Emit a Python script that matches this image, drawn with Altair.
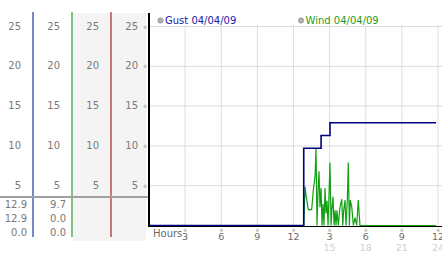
import altair as alt
import pandas as pd

# ---- data ----
y_ticks = [5, 10, 15, 20, 25]
y_tick_labels = ["5", "10", "15", "20", "25"]

x_ticks = [3, 6, 9, 12, 15, 18, 21, 24]
x_labels_row1 = ["3", "6", "9", "12", "3", "6", "9", "12"]
x_ticks_row2 = [15, 18, 21, 24]
x_labels_row2 = ["15", "18", "21", "24"]

gust_hours = [0, 12.85, 14.29, 15.03, 23.84]
gust_values = [0, 9.7, 11.3, 12.9, 12.9]

wind_hours = [0, 12.85, 12.96, 13.04, 13.23, 13.51, 13.65, 13.79, 13.87, 13.95, 14.04,
              14.12, 14.20, 14.29, 14.37, 14.45, 14.53, 14.62, 14.70, 14.78, 14.87,
              15.03, 15.12, 15.20, 15.28, 15.37, 15.45, 15.53, 15.61, 15.72, 15.86,
              16.01, 16.09, 16.17, 16.28, 16.36, 16.47, 16.55, 16.64, 16.72, 16.84,
              16.97, 17.11, 17.25, 17.38, 17.52, 23.84]
wind_values = [0, 0, 4.9, 3.8, 2.0, 2.0, 4.5, 6.2, 9.7, 0, 4.5,
               6.8, 2.3, 4.7, 0, 2.7, 0, 4.7, 1.5, 3.1, 0,
               7.9, 0, 2.3, 3.6, 0, 1.9, 0, 1.9, 0, 2.3,
               3.3, 0, 1.9, 3.2, 0, 3.2, 7.9, 0, 3.2, 2.3,
               0, 1.0, 0, 3.2, 0, 0]

summary_col1 = ["12.9", "12.9", "0.0"]
summary_col2 = ["9.7", "0.0", "0.0"]

legend_names = ["Gust 04/04/09", "Wind 04/04/09"]

# ---- styles ----
FONT = "DejaVu Sans"
LBL = "#7a7a7a"
NAVY = "#000080"
GREEN = "#12a012"

xs = alt.Scale(domain=[0, 24], range=[149, 438])
ys = alt.Scale(domain=[0, 25], range=[225.5, 26.5])

gust_df = pd.DataFrame({"h": gust_hours, "v": gust_values})
wind_df = pd.DataFrame({"h": wind_hours, "v": wind_values})
yt_df = pd.DataFrame({"v": y_ticks, "lab": y_tick_labels})
xt_df = pd.DataFrame({"h": x_ticks, "lab": x_labels_row1})
xt2_df = pd.DataFrame({"h": x_ticks_row2, "lab": x_labels_row2})

one = pd.DataFrame({"a": [0]})
layers = []

# left panel grey background (columns 3-4)
layers.append(alt.Chart(one).mark_rect(color="#f4f4f4").encode(
    x=alt.value(73), x2=alt.value(146), y=alt.value(13), y2=alt.value(241)))

# horizontal gridlines
layers.append(alt.Chart(yt_df).mark_rule(color="#dddddd", strokeWidth=1).encode(
    y=alt.Y("v:Q", scale=ys, axis=None), x=alt.value(149), x2=alt.value(442)))
# vertical gridlines
layers.append(alt.Chart(xt_df).mark_rule(color="#dddddd", strokeWidth=1).encode(
    x=alt.X("h:Q", scale=xs, axis=None), y=alt.value(25), y2=alt.value(226)))

# left coloured column rules
for px, col in [(33, "#1c3c9c"), (72, "#2a9a2a"), (111, "#b02222")]:
    layers.append(alt.Chart(one).mark_rule(color=col, strokeWidth=1.2).encode(
        x=alt.value(px), y=alt.value(12), y2=alt.value(237)))

# separator
layers.append(alt.Chart(one).mark_rule(color="#a0a0a0", strokeWidth=2).encode(
    x=alt.value(0), x2=alt.value(148), y=alt.value(197)))

# y labels, 4 columns
for px in [21, 60, 99, 138]:
    layers.append(alt.Chart(yt_df).mark_text(font=FONT, fontSize=10, color=LBL, align="right",
                                             baseline="middle").encode(
        y=alt.Y("v:Q", scale=ys, axis=None), x=alt.value(px), text="lab:N"))

# small tick glyphs on y
layers.append(alt.Chart(yt_df).mark_text(font=FONT, fontSize=5, color="#999999", text="※",
                                         baseline="middle").encode(
    y=alt.Y("v:Q", scale=ys, axis=None), x=alt.value(145)))

# summary values
for px, vals in [(27, summary_col1), (66, summary_col2)]:
    for i, v in enumerate(vals):
        layers.append(alt.Chart(pd.DataFrame({"lab": [v]})).mark_text(
            font=FONT, fontSize=10, color=LBL, align="right", baseline="middle").encode(
            x=alt.value(px), y=alt.value(205 + 14 * i), text="lab:N"))

# data lines
layers.append(alt.Chart(wind_df).mark_line(color=GREEN, strokeWidth=1.2, interpolate="linear").encode(
    x=alt.X("h:Q", scale=xs, axis=None), y=alt.Y("v:Q", scale=ys, axis=None)))
layers.append(alt.Chart(gust_df).mark_line(color=NAVY, strokeWidth=1.6, interpolate="step-after").encode(
    x=alt.X("h:Q", scale=xs, axis=None), y=alt.Y("v:Q", scale=ys, axis=None)))

# axes lines
layers.append(alt.Chart(one).mark_rule(color="#000000", strokeWidth=2).encode(
    x=alt.value(149), y=alt.value(13), y2=alt.value(227)))
layers.append(alt.Chart(one).mark_rule(color="#000000", strokeWidth=1).encode(
    x=alt.value(149), x2=alt.value(442), y=alt.value(226.5)))

# x tick glyphs and labels
layers.append(alt.Chart(xt_df).mark_text(font=FONT, fontSize=5, color="#999999", text="※",
                                         baseline="middle").encode(
    x=alt.X("h:Q", scale=xs, axis=None), y=alt.value(229.5)))
layers.append(alt.Chart(xt_df).mark_text(font=FONT, fontSize=9.5, color="#6a6a6a",
                                         baseline="alphabetic").encode(
    x=alt.X("h:Q", scale=xs, axis=None), y=alt.value(240), text="lab:N"))
layers.append(alt.Chart(xt2_df).mark_text(font=FONT, fontSize=9.5, color="#d0d0d0",
                                          baseline="alphabetic").encode(
    x=alt.X("h:Q", scale=xs, axis=None), y=alt.value(250.5), text="lab:N"))
layers.append(alt.Chart(pd.DataFrame({"lab": ["Hours"]})).mark_text(
    font=FONT, fontSize=10, color="#6a6a6a", align="left", baseline="alphabetic").encode(
    x=alt.value(153), y=alt.value(237), text="lab:N"))

# legend
for cx, name, col in [(160.5, legend_names[0], "#1a1aa8"), (301, legend_names[1], "#1f9a1f")]:
    layers.append(alt.Chart(one).mark_point(
        shape="circle", filled=True, size=28, color="#b0b0b0", stroke="#888888", strokeWidth=0.6,
        opacity=1).encode(x=alt.value(cx), y=alt.value(20.5)))
    layers.append(alt.Chart(pd.DataFrame({"lab": [name]})).mark_text(
        font=FONT, fontSize=10, color=col, align="left", baseline="alphabetic").encode(
        x=alt.value(cx + 4.5), y=alt.value(24), text="lab:N"))

chart = alt.layer(*layers).properties(
    width=442, height=253, padding=0, autosize=alt.AutoSizeParams(type="none"),
    background="white"
).configure_view(stroke=None)

chart.save("out.html", embed_options={"renderer": "svg", "actions": False})
